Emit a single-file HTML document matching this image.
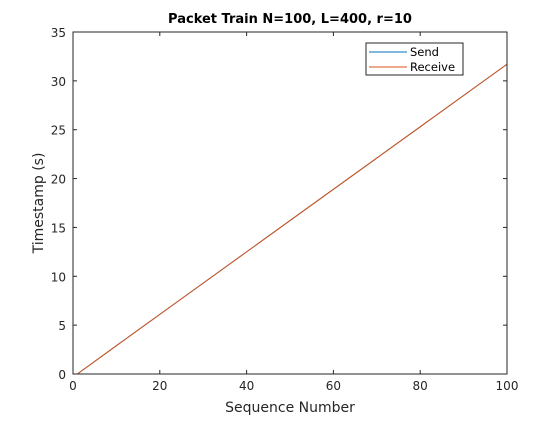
<!DOCTYPE html>
<html><head><meta charset="utf-8"><style>
body{margin:0;background:#fff;width:560px;height:420px;overflow:hidden;font-family:"DejaVu Sans",sans-serif}
</style></head><body>
<svg id="chart" width="560" height="420" xmlns="http://www.w3.org/2000/svg" font-family="DejaVu Sans, sans-serif"></svg>
<script>
const seqNumbers=[1,10,20,30,40,50,60,70,80,90,100];
const sendTimes=[0.0,2.9,6.1,9.3,12.5,15.7,18.9,22.1,25.3,28.5,31.7];
const receiveTimes=[0.0,2.9,6.1,9.3,12.5,15.7,18.9,22.1,25.3,28.5,31.7];
const xTicks=[0,20,40,60,80,100];
const yTicks=[0,5,10,15,20,25,30,35];
const L=73,R=507,T=32,B=374;
const sx=v=>L+(v-0)/(100-0)*(R-L);
const sy=v=>B-(v-0)/(35-0)*(B-T);
const svg=document.getElementById('chart');
const NS='http://www.w3.org/2000/svg';
function mk(tag,attrs,parent){const e=document.createElementNS(NS,tag);for(const k in attrs)e.setAttribute(k,attrs[k]);(parent||svg).appendChild(e);return e;}
const bg=mk('rect',{x:L,y:T,width:R-L,height:B-T,fill:'#fff'});


function line(vals,color,name){
  const p=mk('polyline',{points:seqNumbers.map((s,i)=>sx(s)+','+sy(vals[i])).join(' '),fill:'none',stroke:color,'stroke-width':1});
  
  
}
line(sendTimes,'#0072bd','send-line');
line(receiveTimes,'#d95319','receive-line');
const frame=mk('rect',{x:L,y:T,width:R-L,height:B-T,fill:'none',stroke:'#262626','stroke-width':1});


xTicks.forEach(t=>{
  const x=sx(t);
  mk('line',{x1:x,y1:B,x2:x,y2:B-4,stroke:'#262626'});
  mk('line',{x1:x,y1:T,x2:x,y2:T+4,stroke:'#262626'});
  const tx=mk('text',{x:x,y:B+16,'text-anchor':'middle','font-size':12,fill:'#262626'});
  tx.textContent=t;
  
  
});
yTicks.forEach(t=>{
  const y=sy(t);
  mk('line',{x1:L,y1:y,x2:L+4,y2:y,stroke:'#262626'});
  mk('line',{x1:R,y1:y,x2:R-4,y2:y,stroke:'#262626'});
  const tx=mk('text',{x:L-7,y:y+5,'text-anchor':'end','font-size':12,fill:'#262626'});
  tx.textContent=t;
  
  
});
const title=mk('text',{x:290,y:23,'text-anchor':'middle','font-size':13,'font-weight':'bold',fill:'#000'});
title.textContent='Packet Train N=100, L=400, r=10';


const xl=mk('text',{x:290,y:412,'text-anchor':'middle','font-size':14,fill:'#262626'});
xl.textContent='Sequence Number';


const yl=mk('text',{x:0,y:0,'text-anchor':'middle','font-size':14,fill:'#262626',transform:'translate(43,203) rotate(-90)'});
yl.textContent='Timestamp (s)';


const lg=mk('g',{});


mk('rect',{x:366,y:43,width:97,height:32,fill:'#fff',stroke:'#262626','stroke-width':1},lg);
[['Send','#0072bd',52],['Receive','#d95319',67]].forEach(([n,c,y])=>{
  mk('line',{x1:369,y1:y,x2:407,y2:y,stroke:c},lg);
  const t=mk('text',{x:410,y:y+4,'font-size':11.5,fill:'#000'},lg);
  t.textContent=n;
  
  
});
</script>
</body></html>
